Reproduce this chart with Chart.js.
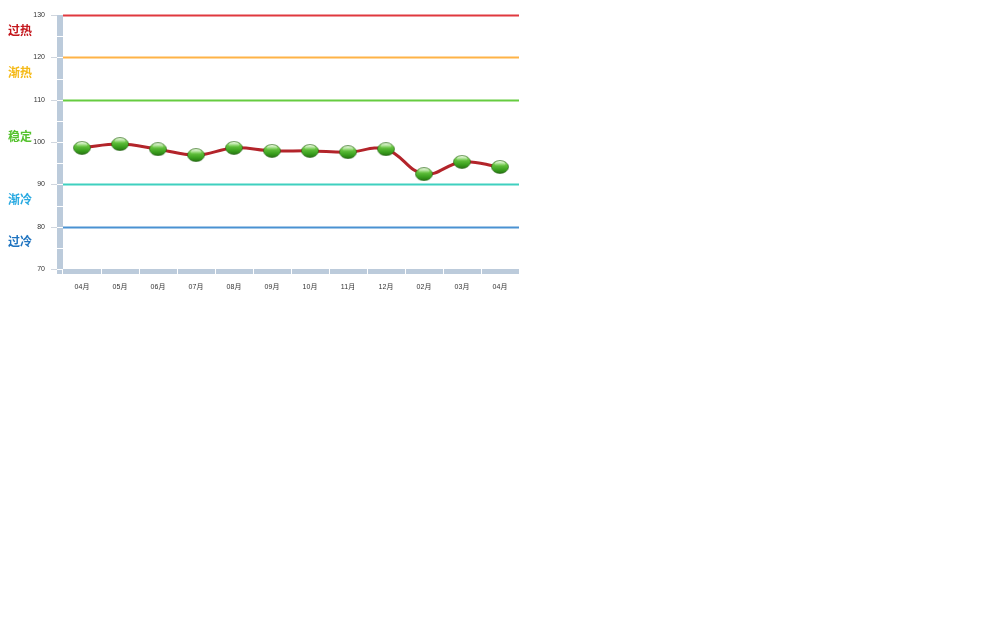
<!DOCTYPE html>
<html>
<head>
<meta charset="utf-8">
<script src="https://cdn.jsdelivr.net/npm/chart.js@4/dist/chart.umd.min.js"></script>
<style>
  html, body { margin: 0; padding: 0; background: #fff; }
  #wrap { position: absolute; left: 0; top: 0; width: 1008px; height: 630px; }
</style>
</head>
<body>
<div id="wrap"><canvas id="chart1" width="1008" height="630"></canvas></div>
<script>
// categorias (meses) y valores
const months = ['04月', '05月', '06月', '07月', '08月', '09月', '10月', '11月', '12月', '02月', '03月', '04月']
const values = [98.6, 99.5, 98.3, 96.9, 98.6, 97.9, 97.9, 97.6, 98.3, 92.4, 95.3, 94.1]

// lineas de umbral
const limits = [130, 120, 110, 90, 80]
const limitColors = ['#e0393f', '#ffb347', '#66cc40', '#3fd0bf', '#4a92d2']

// zonas (texto a la izquierda)
const zoneNames = ['过热', '渐热', '稳定', '渐冷', '过冷']
const zoneMid = [125, 115, 100, 85, 75]
const zoneColors = ['#c4161c', '#f5b915', '#55c22e', '#27a9e1', '#1f74c0']

const yTicks = [70, 80, 90, 100, 110, 120, 130]

// bolita verde con brillo para los puntos
function makeBall() {
    const c = document.createElement('canvas')
    c.width = 18; c.height = 14
    const ctx = c.getContext('2d')
    const g = ctx.createLinearGradient(0, 0, 0, 14)
    g.addColorStop(0, '#c9efaa')
    g.addColorStop(0.3, '#6cc944')
    g.addColorStop(0.7, '#3a9f1e')
    g.addColorStop(1, '#236f10')
    ctx.fillStyle = g
    ctx.beginPath()
    ctx.ellipse(9, 7, 8.5, 6.5, 0, 0, Math.PI * 2)
    ctx.fill()
    // brillo de arriba
    const h = ctx.createLinearGradient(0, 1, 0, 6)
    h.addColorStop(0, 'rgba(255,255,255,0.75)')
    h.addColorStop(1, 'rgba(255,255,255,0)')
    ctx.fillStyle = h
    ctx.beginPath()
    ctx.ellipse(9, 4, 5.5, 3, 0, 0, Math.PI * 2)
    ctx.fill()
    ctx.strokeStyle = 'rgba(30,90,15,0.7)'
    ctx.lineWidth = 0.8
    ctx.beginPath()
    ctx.ellipse(9, 7, 8.5, 6.5, 0, 0, Math.PI * 2)
    ctx.stroke()
    return c
}

const axisPlugin = {
    id: 'axisPlugin',
    beforeDatasetsDraw(chart) {
        const { ctx, chartArea: a, scales: { x, y } } = chart
        ctx.save()
        // lineas de umbral
        limits.forEach((v, i) => {
            const py = Math.round(y.getPixelForValue(v)) + 0.5
            ctx.strokeStyle = limitColors[i]
            ctx.lineWidth = 2
            ctx.beginPath()
            ctx.moveTo(a.left, py)
            ctx.lineTo(a.right, py)
            ctx.stroke()
        })
        // barra izquierda
        ctx.fillStyle = '#bccbdb'
        ctx.fillRect(a.left - 6, a.top, 6, a.bottom - a.top + 5)
        // barra de abajo
        ctx.fillRect(a.left - 6, a.bottom, a.right - a.left + 6, 5)
        ctx.fillStyle = '#fff'
        for (let v = 75; v < 130; v += 5) {
            const py = Math.round(y.getPixelForValue(v))
            ctx.fillRect(a.left - 6, py, 6, 1)
        }
        ctx.fillRect(a.left - 6, a.bottom, 6, 1)
        ctx.fillRect(a.left - 1, a.bottom, 1, 5)
        const step = (a.right - a.left) / months.length
        for (let i = 1; i < months.length; i++) {
            ctx.fillRect(Math.round(a.left + step * i), a.bottom, 1, 5)
        }
        // marcas del eje y
        ctx.fillStyle = '#d0d6de'
        yTicks.forEach(v => {
            const py = Math.round(y.getPixelForValue(v))
            ctx.fillRect(a.left - 12, py, 6, 1)
        })
        // textos de zonas
        ctx.font = 'bold 12px "Noto Sans CJK SC", sans-serif'
        ctx.textBaseline = 'middle'
        zoneNames.forEach((t, i) => {
            ctx.fillStyle = zoneColors[i]
            ctx.fillText(t, 8, y.getPixelForValue(zoneMid[i]) - 6)
        })
        ctx.restore()
    }
}

function drawChart() {
    const data = {
        labels: months,
        datasets: [{
            data: values,
            borderColor: '#b3242a',
            borderWidth: 3,
            tension: 0.4,
            pointStyle: makeBall(),
            pointRadius: 8,
            pointHoverRadius: 8
        }]
    }

    const options = {
        responsive: false,
        animation: false,
        layout: { padding: { left: 0, top: 15, right: 489, bottom: 331 } },
        scales: {
            x: {
                offset: true,
                grid: { display: false, drawTicks: false },
                border: { display: false },
                ticks: {
                    color: '#333',
                    font: { size: 7, family: 'Arial, "Noto Sans CJK SC", sans-serif' },
                    padding: 14,
                    maxRotation: 0
                },
                afterFit(s) { s.height = 30 }
            },
            y: {
                min: 70,
                max: 130,
                grid: { color: 'rgba(0,0,0,0)', drawOnChartArea: false, drawTicks: true, tickLength: 18 },
                border: { display: false },
                ticks: {
                    stepSize: 10,
                    color: '#333',
                    font: { size: 7, family: 'Arial, sans-serif' },
                    padding: 0
                },
                afterFit(s) { s.width = 63 }
            }
        },
        plugins: {
            legend: { display: false },
            tooltip: { enabled: false }
        }
    }

    new Chart('chart1', { type: 'line', data, options, plugins: [axisPlugin] })
}

drawChart()
</script>
</body>
</html>
